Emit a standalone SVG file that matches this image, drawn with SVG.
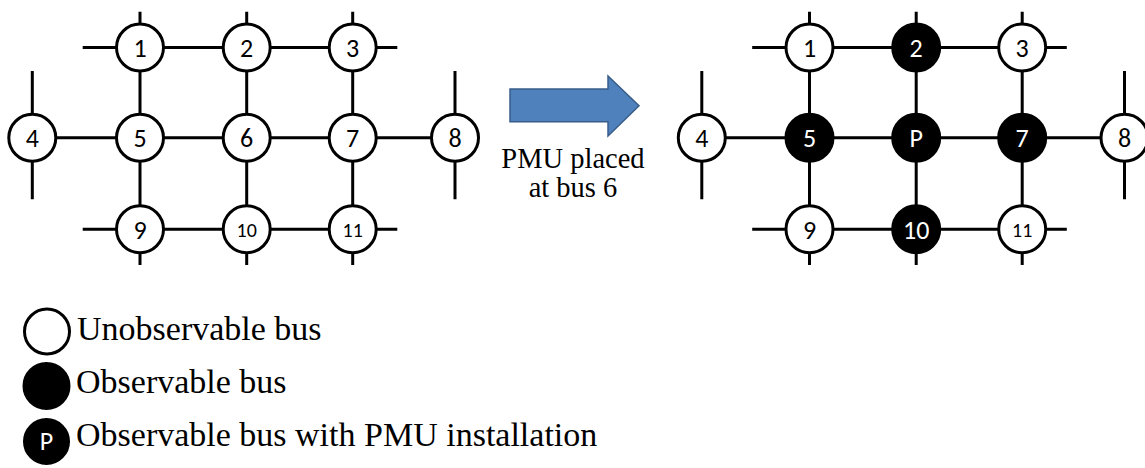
<svg xmlns="http://www.w3.org/2000/svg" width="1145" height="468" viewBox="0 0 1145 468">
<style>
.ln{stroke:#000;stroke-width:3;fill:none;stroke-linecap:butt}
.wn{fill:#fff;stroke:#000;stroke-width:3}
.bn{fill:#000;stroke:#000;stroke-width:3}
.lb{font-size:26px;text-anchor:middle;fill:#000}
.sm{font-size:20px}
.wt{fill:#fff}
.tx{fill:#000}
</style>
<rect width="1145" height="468" fill="#fff"/>
<defs>
<g id="net-lines">
<path class="ln" d="M82.7 47.5H397.3 M32.3 137.7H455 M82.7 229.3H397.3"/>
<path class="ln" d="M140 11.7V265 M246.7 11.7V265 M352.7 11.7V265"/>
<path class="ln" d="M32.3 71V199.3 M455 71V199.3"/>
</g>
</defs>
<g id="connectors">
<use href="#net-lines"/>
<use href="#net-lines" transform="translate(669.5,0)"/>
</g>
<g id="left-network" font-family="Carlito, Lato, 'Open Sans', sans-serif">
<g id="L1"><circle class="wn" cx="140" cy="47.5" r="23.5"/><text class="lb" x="140" y="57">1</text></g>
<g id="L2"><circle class="wn" cx="246.7" cy="47.5" r="23.5"/><text class="lb" x="246.7" y="57">2</text></g>
<g id="L3"><circle class="wn" cx="352.7" cy="47.5" r="23.5"/><text class="lb" x="352.7" y="57">3</text></g>
<g id="L4"><circle class="wn" cx="32.3" cy="137.7" r="23.5"/><text class="lb" x="32.3" y="147.2">4</text></g>
<g id="L5"><circle class="wn" cx="140" cy="137.7" r="23.5"/><text class="lb" x="140" y="147.2">5</text></g>
<g id="L6"><circle class="wn" cx="246.7" cy="137.7" r="23.5"/><text class="lb" x="246.7" y="147.2">6</text></g>
<g id="L7"><circle class="wn" cx="352.7" cy="137.7" r="23.5"/><text class="lb" x="352.7" y="147.2">7</text></g>
<g id="L8"><circle class="wn" cx="455" cy="137.7" r="23.5"/><text class="lb" x="455" y="147.2">8</text></g>
<g id="L9"><circle class="wn" cx="140" cy="229.3" r="23.5"/><text class="lb" x="140" y="238.8">9</text></g>
<g id="L10"><circle class="wn" cx="246.7" cy="229.3" r="23.5"/><text class="lb sm" x="246.7" y="236.5">10</text></g>
<g id="L11"><circle class="wn" cx="352.7" cy="229.3" r="23.5"/><text class="lb sm" x="352.7" y="236.5">11</text></g>
</g>
<g id="right-network" transform="translate(669.5,0)" font-family="Carlito, Lato, 'Open Sans', sans-serif">
<g id="R1"><circle class="wn" cx="140" cy="47.5" r="23.5"/><text class="lb" x="140" y="57">1</text></g>
<g id="R2"><circle class="bn" cx="246.7" cy="47.5" r="23.5"/><text class="lb wt" x="246.7" y="57">2</text></g>
<g id="R3"><circle class="wn" cx="352.7" cy="47.5" r="23.5"/><text class="lb" x="352.7" y="57">3</text></g>
<g id="R4"><circle class="wn" cx="32.3" cy="137.7" r="23.5"/><text class="lb" x="32.3" y="147.2">4</text></g>
<g id="R5"><circle class="bn" cx="140" cy="137.7" r="23.5"/><text class="lb wt" x="140" y="147.2">5</text></g>
<g id="R6"><circle class="bn" cx="246.7" cy="137.7" r="23.5"/><text class="lb wt" x="246.7" y="147.2">P</text></g>
<g id="R7"><circle class="bn" cx="352.7" cy="137.7" r="23.5"/><text class="lb wt" x="352.7" y="147.2">7</text></g>
<g id="R8"><circle class="wn" cx="455" cy="137.7" r="23.5"/><text class="lb" x="455" y="147.2">8</text></g>
<g id="R9"><circle class="wn" cx="140" cy="229.3" r="23.5"/><text class="lb" x="140" y="238.8">9</text></g>
<g id="R10"><circle class="bn" cx="246.7" cy="229.3" r="23.5"/><text class="lb wt" x="246.7" y="238.8">10</text></g>
<g id="R11"><circle class="wn" cx="352.7" cy="229.3" r="23.5"/><text class="lb sm" x="352.7" y="236.5">11</text></g>
</g>
<g id="transition" font-family="'Liberation Serif', 'DejaVu Serif', serif">
<polygon points="510,89 608,89 608,76 639,105.7 608,136 608,121.7 510,121.7" fill="#4f81bd" stroke="#385d8a" stroke-width="1.5"/>
<text class="tx" x="573" y="168" font-size="28.5" text-anchor="middle">PMU placed</text>
<text class="tx" x="573" y="197" font-size="28.5" text-anchor="middle">at bus 6</text>
</g>
<g id="legend">
<g id="leg-unobs"><circle class="wn" cx="47" cy="331.5" r="22.5"/><text class="tx" font-family="'Liberation Serif', 'DejaVu Serif', serif" x="77" y="340" font-size="34">Unobservable bus</text></g>
<g id="leg-obs"><circle class="bn" cx="46.5" cy="386" r="22.5"/><text class="tx" font-family="'Liberation Serif', 'DejaVu Serif', serif" x="76" y="393" font-size="34">Observable bus</text></g>
<g id="leg-pmu"><circle class="bn" cx="46.5" cy="441.5" r="22"/><text class="lb wt" font-family="Carlito, Lato, 'Open Sans', sans-serif" x="46.5" y="449.5" font-size="22">P</text><text class="tx" font-family="'Liberation Serif', 'DejaVu Serif', serif" x="76" y="446" font-size="34">Observable bus with PMU installation</text></g>
</g>
</svg>
